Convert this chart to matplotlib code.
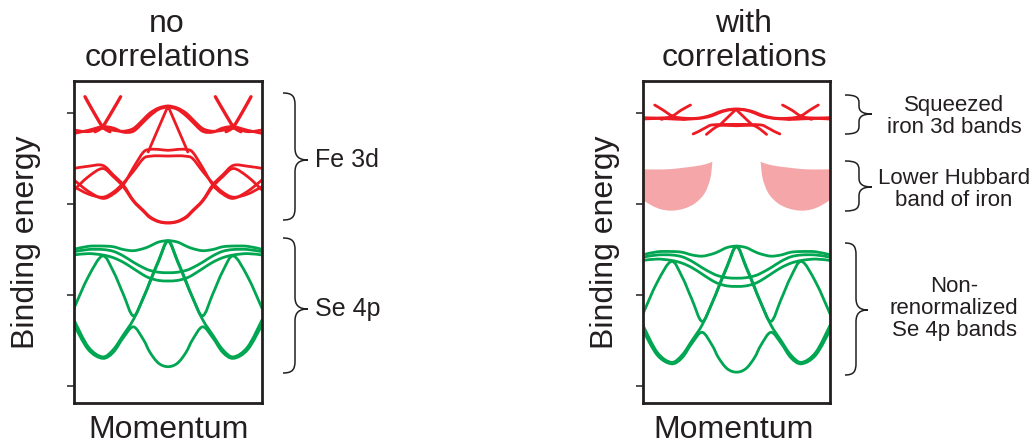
import numpy as np
import matplotlib.pyplot as plt
from matplotlib.path import Path
from matplotlib.patches import PathPatch

plt.rcParams['font.family'] = ['Liberation Sans', 'DejaVu Sans']

RED = '#ed1c24'
GREEN = '#00a651'
PINK = '#f4a6a8'
INK = '#231f20'

# momentum grid (0 = left zone edge, 1 = right zone edge)
k_grid = [0, 0.076, 0.152, 0.209, 0.262, 0.316, 0.369, 0.404, 0.45, 0.5,
          0.55, 0.596, 0.631, 0.684, 0.738, 0.791, 0.848, 0.924, 1.0]

# ---- no correlations: Fe 3d bands (binding energy, tick units)
fe_flat_1 = [0.187, 0.205, 0.168, 0.19, 0.20, 0.17, 0.07, 0.0, -0.055, -0.077,
             -0.055, 0.0, 0.07, 0.17, 0.20, 0.19, 0.168, 0.205, 0.187]
fe_flat_2 = [0.224, 0.19, 0.15, 0.165, 0.21, 0.20, 0.10, 0.03, -0.04, -0.065,
             -0.04, 0.03, 0.10, 0.20, 0.21, 0.165, 0.15, 0.19, 0.224]
fe_hump_1 = [0.608, 0.585, 0.575, 0.68, 0.79, 0.96, 1.07, 1.14, 1.19, 1.205,
             1.19, 1.14, 1.07, 0.96, 0.79, 0.68, 0.575, 0.585, 0.608]
fe_hump_2 = [0.846, 0.70, 0.61, 0.70, 0.81, 0.97, 1.08, 1.15, 1.195, 1.21,
             1.195, 1.15, 1.08, 0.97, 0.81, 0.70, 0.61, 0.70, 0.846]
fe_valley_1 = [0.736, 0.86, 0.938, 0.89, 0.79, 0.60, 0.43, 0.40, 0.40, 0.41,
               0.40, 0.40, 0.43, 0.60, 0.79, 0.89, 0.938, 0.86, 0.736]
fe_valley_2 = [0.81, 0.89, 0.925, 0.87, 0.77, 0.64, 0.50, 0.475, 0.47, 0.473,
               0.47, 0.475, 0.50, 0.64, 0.77, 0.87, 0.925, 0.89, 0.81]
fe_arm_k = [[0.0585, 0.103, 0.152, 0.191], [0.248, 0.202, 0.152, 0.112],
            [0.9415, 0.897, 0.848, 0.809], [0.752, 0.798, 0.848, 0.888]]
fe_arm_e = [-0.179, -0.015, 0.150, 0.205]
fe_apex_k = [0.395, 0.5, 0.605]
fe_apex_e = [0.425, -0.077, 0.425]

# ---- Se 4p bands (same in both panels)
se_top_1 = [1.498, 1.465, 1.462, 1.47, 1.50, 1.513, 1.49, 1.462, 1.418, 1.403,
            1.418, 1.462, 1.49, 1.513, 1.50, 1.47, 1.462, 1.465, 1.498]
se_top_2 = [1.524, 1.50, 1.50, 1.52, 1.57, 1.64, 1.70, 1.73, 1.75, 1.755,
            1.75, 1.73, 1.70, 1.64, 1.57, 1.52, 1.50, 1.50, 1.524]
se_top_3 = [1.56, 1.545, 1.56, 1.59, 1.64, 1.71, 1.78, 1.815, 1.84, 1.846,
            1.84, 1.815, 1.78, 1.71, 1.64, 1.59, 1.56, 1.545, 1.56]
se_wide = [2.146, 1.80, 1.571, 1.74, 1.99, 2.23, 2.03, 1.85, 1.62, 1.403,
           1.62, 1.85, 2.03, 2.23, 1.99, 1.74, 1.571, 1.80, 2.146]
se_low_1 = [2.33, 2.60, 2.696, 2.63, 2.47, 2.35, 2.49, 2.63, 2.75, 2.788,
            2.75, 2.63, 2.49, 2.35, 2.47, 2.63, 2.696, 2.60, 2.33]
se_low_2 = [2.275, 2.57, 2.68, 2.60, 2.44, 2.27, 2.03, 1.86, 1.63, 1.41,
            1.63, 1.86, 2.03, 2.27, 2.44, 2.60, 2.68, 2.57, 2.275]
se_shift_corr = 0.06

# ---- with correlations: squeezed Fe 3d bands
sq_flat_1 = [0.051, 0.055, 0.05, 0.055, 0.06, 0.05, 0.02, -0.01, -0.035, -0.045,
             -0.035, -0.01, 0.02, 0.05, 0.06, 0.055, 0.05, 0.055, 0.051]
sq_flat_2 = [0.066, 0.06, 0.065, 0.07, 0.065, 0.055, 0.03, 0.0, -0.03, -0.04,
             -0.03, 0.0, 0.03, 0.055, 0.065, 0.07, 0.065, 0.06, 0.066]
sq_arm_k = [[0.0625, 0.107, 0.157, 0.223], [0.254, 0.205, 0.157, 0.098],
            [0.9375, 0.893, 0.843, 0.777], [0.746, 0.795, 0.843, 0.902]]
sq_arm_e = [-0.088, -0.033, 0.033, 0.07]
sq_apex_k = [0.42, 0.497, 0.575]
sq_apex_e = [0.113, -0.04, 0.113]
sq_foot_1_k = [0.268, 0.30, 0.34, 0.375, 0.5, 0.625, 0.66, 0.70, 0.732]
sq_foot_1_e = [0.23, 0.20, 0.155, 0.13, 0.125, 0.13, 0.155, 0.20, 0.23]
sq_foot_2_k = [0.339, 0.36, 0.39, 0.42, 0.5, 0.58, 0.61, 0.64, 0.661]
sq_foot_2_e = [0.235, 0.20, 0.155, 0.135, 0.14, 0.135, 0.155, 0.20, 0.235]

# lower Hubbard band (upper and lower boundary of each lobe)
lhb_left_k = [0, 0.05, 0.1, 0.157, 0.22, 0.28, 0.33, 0.36, 0.371]
lhb_left_top = [0.619, 0.62, 0.62, 0.615, 0.60, 0.585, 0.565, 0.545, 0.535]
lhb_left_bot = [0.956, 1.02, 1.06, 1.073, 1.05, 0.99, 0.88, 0.72, 0.535]
lhb_right_k = [0.629, 0.64, 0.67, 0.72, 0.78, 0.843, 0.9, 0.95, 1.0]
lhb_right_top = [0.535, 0.545, 0.565, 0.585, 0.60, 0.615, 0.62, 0.62, 0.619]
lhb_right_bot = [0.535, 0.72, 0.88, 0.99, 1.05, 1.073, 1.06, 1.02, 0.956]

energy_ticks = [0, 1, 2, 3]


def smooth_verts(xs, ys):
    # Catmull-Rom through the points, written as cubic Bezier pieces
    pts = np.column_stack([xs, ys]).astype(float)
    p = np.vstack([pts[0], pts, pts[-1]])
    verts = [pts[0]]
    codes = [Path.MOVETO]
    for i in range(1, len(p) - 2):
        c1 = p[i] + (p[i + 1] - p[i - 1]) / 6
        c2 = p[i + 1] - (p[i + 2] - p[i]) / 6
        verts += [c1, c2, p[i + 1]]
        codes += [Path.CURVE4] * 3
    return verts, codes


def band(ax, k, e, color, lw=2.0):
    verts, codes = smooth_verts(k, e)
    ax.add_patch(PathPatch(Path(verts, codes), fill=False, edgecolor=color,
                           lw=lw, capstyle='round', joinstyle='round'))


def lobe(ax, k, top, bot):
    v1, c1 = smooth_verts(k, top)
    v2, c2 = smooth_verts(k[::-1], bot[::-1])
    verts = v1 + [v2[0]] + v2[1:] + [v1[0]]
    codes = c1 + [Path.LINETO] + c2[1:] + [Path.CLOSEPOLY]
    ax.add_patch(PathPatch(Path(verts, codes), facecolor=PINK, edgecolor='none'))


def frame(ax):
    ax.set_xlim(0, 1)
    ax.set_ylim(3.187, -0.352)
    ax.set_xticks([])
    ax.set_yticks(energy_ticks)
    ax.set_yticklabels([])
    ax.tick_params(axis='y', direction='out', length=5, width=1.1, color=INK)
    for s in ax.spines.values():
        s.set_linewidth(2.0)
        s.set_color(INK)


def brace(ax, x_end, x_stem, x_tip, y_top, y_mid, y_bot, r):
    P = Path
    verts = [(x_end, y_top),
             (x_end + (x_stem - x_end) * 0.8, y_top), (x_stem, y_top + r * 0.3), (x_stem, y_top + r),
             (x_stem, y_mid - r),
             (x_stem, y_mid - r * 0.3), (x_stem + (x_tip - x_stem) * 0.3, y_mid), (x_tip, y_mid),
             (x_stem + (x_tip - x_stem) * 0.3, y_mid), (x_stem, y_mid + r * 0.3), (x_stem, y_mid + r),
             (x_stem, y_bot - r),
             (x_stem, y_bot - r * 0.3), (x_end + (x_stem - x_end) * 0.8, y_bot), (x_end, y_bot)]
    codes = [P.MOVETO, P.CURVE4, P.CURVE4, P.CURVE4, P.LINETO,
             P.CURVE4, P.CURVE4, P.CURVE4, P.CURVE4, P.CURVE4, P.CURVE4,
             P.LINETO, P.CURVE4, P.CURVE4, P.CURVE4]
    ax.add_patch(PathPatch(P(verts, codes), fill=False, edgecolor=INK, lw=1.1))


fig = plt.figure(figsize=(10.32, 4.43), dpi=100)
W, H = 1032, 443

# overlay in pixel units for labels and braces
over = fig.add_axes([0, 0, 1, 1])
over.set_xlim(0, W)
over.set_ylim(H, 0)
over.axis('off')

ax_l = fig.add_axes([74 / W, 1 - 403 / H, 188 / W, 322 / H])
ax_r = fig.add_axes([643 / W, 1 - 403 / H, 187 / W, 322 / H])
frame(ax_l)
frame(ax_r)

# left panel
for e in [fe_flat_1, fe_flat_2, fe_hump_1, fe_hump_2, fe_valley_1, fe_valley_2]:
    band(ax_l, k_grid, e, RED)
for ka in fe_arm_k:
    band(ax_l, ka, fe_arm_e, RED, lw=2.4)
ax_l.plot(fe_apex_k, fe_apex_e, color=RED, lw=2.0, solid_joinstyle='round')
se_bands = [se_top_1, se_top_2, se_top_3, se_wide, se_low_1, se_low_2]
for e in se_bands:
    band(ax_l, k_grid, e, GREEN)

# right panel
lobe(ax_r, lhb_left_k, lhb_left_top, lhb_left_bot)
lobe(ax_r, lhb_right_k, lhb_right_top, lhb_right_bot)
for e in [sq_flat_1, sq_flat_2]:
    band(ax_r, k_grid, e, RED)
for ka in sq_arm_k:
    band(ax_r, ka, sq_arm_e, RED)
ax_r.plot(sq_apex_k, sq_apex_e, color=RED, lw=2.0, solid_joinstyle='round')
band(ax_r, sq_foot_1_k, sq_foot_1_e, RED)
band(ax_r, sq_foot_2_k, sq_foot_2_e, RED)
for e in se_bands:
    band(ax_r, k_grid, np.array(e) + se_shift_corr, GREEN)

# titles and axis labels
big = dict(fontsize=23, color=INK, ha='center', va='baseline')
over.text(167, 31.5, 'no', **big)
over.text(167, 65.5, 'correlations', **big)
over.text(744, 31.5, 'with', **big)
over.text(744, 65.5, 'correlations', **big)
over.text(169, 438, 'Momentum', **big)
over.text(734, 438, 'Momentum', **big)
over.text(26.5, 242, 'Binding energy', fontsize=23, color=INK, rotation=90,
          ha='center', va='center')
over.text(605, 242, 'Binding energy', fontsize=23, color=INK, rotation=90,
          ha='center', va='center')

# braces
brace(over, 283, 295, 308, 93, 160, 220, 12)
brace(over, 283, 295, 308, 238, 309, 373, 12)
brace(over, 845, 859, 872, 95, 114, 134, 8)
brace(over, 845, 859, 872, 161, 187, 211, 9)
brace(over, 845, 856, 868, 243, 310, 375, 12)

small = dict(fontsize=18, color=INK, ha='left', va='baseline')
over.text(315, 167, 'Fe 3d', **small)
over.text(315, 316, 'Se 4p', **small)

note = dict(fontsize=16, color=INK, ha='center', va='baseline')
over.text(954, 111, 'Squeezed', **note)
over.text(954, 133, 'iron 3d bands', **note)
over.text(954, 184, 'Lower Hubbard', **note)
over.text(954, 206, 'band of iron', **note)
over.text(954, 292.5, 'Non-', **note)
over.text(954, 314, 'renormalized', **note)
over.text(954, 336, 'Se 4p bands', **note)

fig.savefig('out.png', dpi=100)
